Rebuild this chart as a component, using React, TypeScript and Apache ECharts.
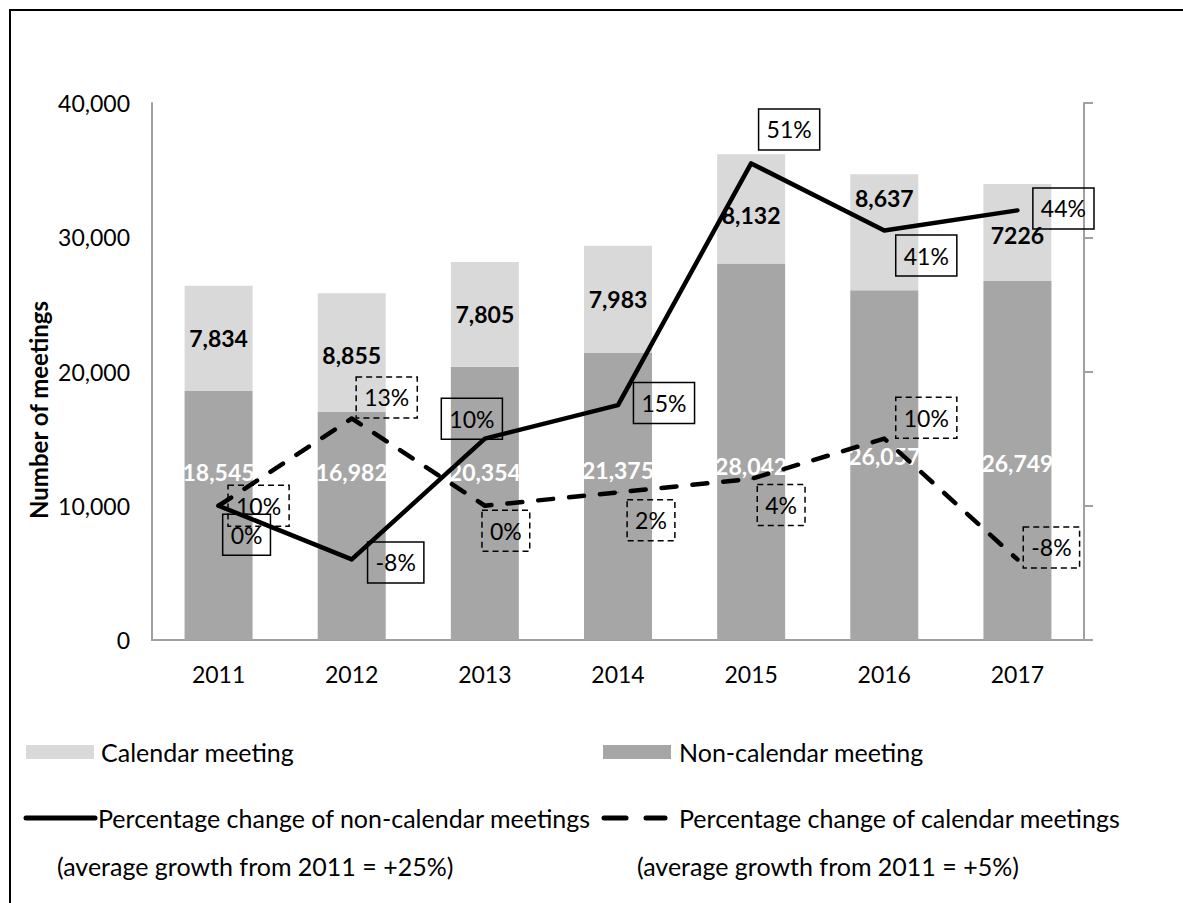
import React, { useEffect, useRef } from "react";
import * as echarts from "echarts";

// ---- Data ----
const years = ["2011", "2012", "2013", "2014", "2015", "2016", "2017"];
const nonCalendarMeetings = [18545, 16982, 20354, 21375, 28042, 26057, 26749];
const calendarMeetings = [7834, 8855, 7805, 7983, 8132, 8637, 7226];
const calendarMeetingLabels = ["7,834", "8,855", "7,805", "7,983", "8,132", "8,637", "7226"];
const nonCalendarPctChange = [0, -8, 10, 15, 51, 41, 44];
const nonCalendarPctLabels = ["0%", "-8%", "10%", "15%", "51%", "41%", "44%"];
const calendarPctChange = [0, 13, 0, 2, 4, 10, -8];
const calendarPctLabels = ["10%", "13%", "0%", "2%", "4%", "10%", "-8%"];
const meetingsAxis = { min: 0, max: 40000, interval: 10000 };
const pctAxis = { min: -20, max: 60, interval: 20 };

const legendTexts = {
  calendar: "Calendar meeting",
  nonCalendar: "Non-calendar meeting",
  nonCalLine: "Percentage change of non-calendar meetings",
  calLine: "Percentage change of calendar meetings",
  nonCalNote: "(average growth from 2011 = +25%)",
  calNote: "(average growth from 2011 = +5%)",
};
const yTitle = "Number of meetings";

// ---- Label placement (styling only) ----
const nonCalPctOffsets = [[28, 29], [44, 3], [-13, -20], [46, -2], [38, -34], [42, 25], [46, -2]];
const calPctOffsets = [[40, 0], [35, -21], [21, 25], [33, 28], [30, 26], [42, -21], [34, -12]];
const calBarLabelOffsets = [[0, 0], [0, 2], [0, 0], [0, 0], [0, 6], [0, -34], [0, 3]];
const nonCalBarLabelDistance = [156, 156, 156, 158, 162, 172, 165];

const FONT = 'Lato, "Noto Sans", sans-serif';
const LIGHT = "#d9d9d9";
const DARK = "#a6a6a6";
const AXIS = "#a0a0a0";
const LEGEND_FONT = `25px ${FONT}`;

export default function App() {
  const ref = useRef<HTMLDivElement>(null);

  useEffect(() => {
    if (!ref.current) return;
    const chart = echarts.init(ref.current, null, { renderer: "svg" });

    const pctLabelBase = {
      show: true,
      position: "inside",
      fontFamily: FONT,
      fontSize: 23,
      color: "#000",
      lineHeight: 27,
      padding: [7, 8],
      borderColor: "#000",
      borderWidth: 1.5,
    };

    const option: any = {
      animation: false,
      backgroundColor: "#fff",
      textStyle: { fontFamily: FONT },
      grid: { left: 152, right: 99, top: 103, bottom: 263, containLabel: false },
      xAxis: {
        type: "category",
        data: years,
        axisLine: { show: true, lineStyle: { color: AXIS, width: 2 } },
        axisTick: { show: false },
        axisLabel: { color: "#000", fontSize: 23, fontFamily: FONT, margin: 22 },
      },
      yAxis: [
        {
          type: "value",
          min: meetingsAxis.min,
          max: meetingsAxis.max,
          interval: meetingsAxis.interval,
          axisLine: { show: true, lineStyle: { color: AXIS, width: 2 } },
          axisTick: { show: false },
          splitLine: { show: false },
          axisLabel: {
            color: "#000",
            fontSize: 23,
            fontFamily: FONT,
            margin: 22,
            formatter: (v: number) => v.toLocaleString("en-US"),
          },
        },
        {
          type: "value",
          position: "right",
          min: pctAxis.min,
          max: pctAxis.max,
          interval: pctAxis.interval,
          axisLine: { show: true, lineStyle: { color: AXIS, width: 2 } },
          axisTick: { show: true, inside: false, length: 9, lineStyle: { color: AXIS, width: 2 } },
          splitLine: { show: false },
          axisLabel: { show: false },
        },
      ],
      series: [
        {
          name: legendTexts.nonCalendar,
          type: "bar",
          stack: "meetings",
          barWidth: 68,
          itemStyle: { color: DARK },
          data: nonCalendarMeetings.map((v, i) => ({
            value: v,
            label: { distance: nonCalBarLabelDistance[i] },
          })),
          label: {
            show: true,
            position: "insideBottom",
            color: "#fff",
            fontWeight: "bold",
            fontSize: 23,
            lineHeight: 24,
            fontFamily: FONT,
            formatter: (p: any) => Number(p.value).toLocaleString("en-US"),
          },
          z: 2,
        },
        {
          name: legendTexts.calendar,
          type: "bar",
          stack: "meetings",
          barWidth: 68,
          itemStyle: { color: LIGHT },
          data: calendarMeetings.map((v, i) => ({
            value: v,
            label: { offset: calBarLabelOffsets[i] },
          })),
          label: {
            show: true,
            position: "inside",
            color: "#000",
            fontWeight: "bold",
            fontSize: 23,
            fontFamily: FONT,
            formatter: (p: any) => calendarMeetingLabels[p.dataIndex],
          },
          z: 2,
        },
        {
          name: legendTexts.calLine,
          type: "line",
          yAxisIndex: 1,
          symbol: "circle",
          symbolSize: 1,
          itemStyle: { color: "#000" },
          lineStyle: { color: "#000", width: 4.5, type: [15, 16], cap: "round", join: "round" },
          data: calendarPctChange.map((v, i) => ({ value: v, label: { offset: calPctOffsets[i] } })),
          label: {
            ...pctLabelBase,
            borderType: [6, 4],
            formatter: (p: any) => calendarPctLabels[p.dataIndex],
          },
          z: 5,
        },
        {
          name: legendTexts.nonCalLine,
          type: "line",
          yAxisIndex: 1,
          symbol: "circle",
          symbolSize: 1,
          itemStyle: { color: "#000" },
          lineStyle: { color: "#000", width: 4.5, cap: "round", join: "round" },
          data: nonCalendarPctChange.map((v, i) => ({ value: v, label: { offset: nonCalPctOffsets[i] } })),
          label: {
            ...pctLabelBase,
            formatter: (p: any) => nonCalendarPctLabels[p.dataIndex],
          },
          z: 6,
        },
      ],
      graphic: [
        {
          type: "rect",
          shape: { x: 10, y: 10, width: 1200, height: 1000 },
          style: { fill: "none", stroke: "#000", lineWidth: 2 },
          silent: true,
        },
        {
          type: "text",
          x: 38,
          y: 410,
          rotation: Math.PI / 2,
          style: {
            text: yTitle,
            font: `bold 24px ${FONT}`,
            fill: "#000",
            align: "center",
            verticalAlign: "middle",
          },
        },
        // Row 1: bar legend
        { type: "rect", shape: { x: 26, y: 745, width: 68, height: 14 }, style: { fill: LIGHT } },
        {
          type: "text",
          x: 101,
          y: 752,
          style: { text: legendTexts.calendar, font: LEGEND_FONT, fill: "#000", verticalAlign: "middle" },
        },
        { type: "rect", shape: { x: 603, y: 745, width: 68, height: 14 }, style: { fill: DARK } },
        {
          type: "text",
          x: 679,
          y: 752,
          style: { text: legendTexts.nonCalendar, font: LEGEND_FONT, fill: "#000", verticalAlign: "middle" },
        },
        // Row 2: line legend
        {
          type: "line",
          shape: { x1: 26, y1: 818, x2: 95, y2: 818 },
          style: { stroke: "#000", lineWidth: 5, lineCap: "round" },
        },
        {
          type: "text",
          x: 98,
          y: 818,
          style: { text: legendTexts.nonCalLine, font: LEGEND_FONT, fill: "#000", verticalAlign: "middle" },
        },
        {
          type: "line",
          shape: { x1: 604, y1: 818, x2: 626, y2: 818 },
          style: { stroke: "#000", lineWidth: 5, lineCap: "round" },
        },
        {
          type: "line",
          shape: { x1: 646, y1: 818, x2: 665, y2: 818 },
          style: { stroke: "#000", lineWidth: 5, lineCap: "round" },
        },
        {
          type: "text",
          x: 679,
          y: 818,
          style: { text: legendTexts.calLine, font: LEGEND_FONT, fill: "#000", verticalAlign: "middle" },
        },
        // Row 3: notes
        {
          type: "text",
          x: 57,
          y: 866,
          style: { text: legendTexts.nonCalNote, font: LEGEND_FONT, fill: "#000", verticalAlign: "middle" },
        },
        {
          type: "text",
          x: 637,
          y: 866,
          style: { text: legendTexts.calNote, font: LEGEND_FONT, fill: "#000", verticalAlign: "middle" },
        },
      ],
    };

    chart.setOption(option);
    return () => chart.dispose();
  }, []);

  return (
    <div
      ref={ref}
      style={{ position: "fixed", left: 0, top: 0, width: 1183, height: 903, background: "#fff" }}
    />
  );
}
